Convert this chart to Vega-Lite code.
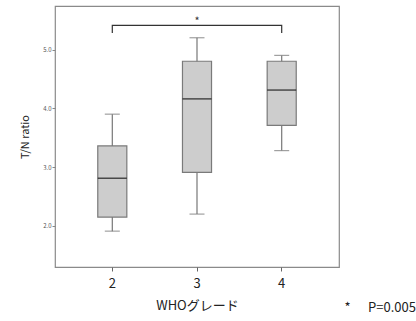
{
  "$schema": "https://vega.github.io/schema/vega-lite/v6.json",
  "width": 284,
  "height": 261,
  "autosize": "none",
  "padding": {"left": 55, "top": 6, "right": 77, "bottom": 54},
  "background": "white",
  "config": {
    "font": "Noto Sans CJK JP",
    "view": {"stroke": "#8a8a8a", "strokeWidth": 1.2},
    "axis": {"grid": false, "domain": false}
  },
  "title": {
    "text": "*\u00a0\u00a0\u00a0\u00a0\u00a0\u00a0P=0.005",
    "orient": "bottom",
    "anchor": "end",
    "frame": "bounds",
    "offset": -10,
    "fontSize": 13,
    "fontWeight": "normal",
    "font": "Noto Sans CJK JP",
    "color": "#222",
    "dx": 77
  },
  "datasets": {
    "boxes": [
      {"grade": "2", "min": 1.91, "q1": 2.15, "median": 2.81, "q3": 3.36, "max": 3.9},
      {"grade": "3", "min": 2.2, "q1": 2.91, "median": 4.16, "q3": 4.8, "max": 5.2},
      {"grade": "4", "min": 3.28, "q1": 3.71, "median": 4.31, "q3": 4.8, "max": 4.9}
    ],
    "bracket": [
      {"grade": "2", "y": 5.28, "o": 1},
      {"grade": "2", "y": 5.41, "o": 2},
      {"grade": "4", "y": 5.41, "o": 3},
      {"grade": "4", "y": 5.28, "o": 4}
    ],
    "star": [{"grade": "3", "y": 5.47, "label": "*"}]
  },
  "encoding": {
    "x": {
      "field": "grade",
      "type": "ordinal",
      "scale": {"domain": ["2", "3", "4"], "paddingInner": 0.657, "paddingOuter": 0.505},
      "axis": {
        "title": "WHOグレード",
        "titleFontSize": 13,
        "titleFontWeight": "normal",
        "titleColor": "#222",
        "titlePadding": 9,
        "labelAngle": 0,
        "labelFontSize": 13,
        "labelColor": "#222",
        "labelPadding": 6,
        "tickColor": "#666",
        "tickSize": 4
      }
    }
  },
  "layer": [
    {
      "data": {"name": "boxes"},
      "mark": {"type": "rule", "color": "#777", "strokeWidth": 1.2},
      "encoding": {
        "y": {
          "field": "min",
          "type": "quantitative",
          "scale": {"domain": [1.3, 5.74], "nice": false, "zero": false},
          "axis": {
            "title": "T/N ratio",
            "titleFontSize": 11,
            "titleFontWeight": "normal",
            "titleColor": "#222",
            "titlePadding": 12,
            "values": [2, 3, 4, 5],
            "format": ".1f",
            "labelFontSize": 6,
            "labelColor": "#555",
            "tickColor": "#888",
            "tickSize": 3,
            "labelPadding": 1
          }
        },
        "y2": {"field": "max"}
      }
    },
    {
      "data": {"name": "boxes"},
      "mark": {"type": "tick", "color": "#777", "size": 15, "thickness": 1.2, "orient": "horizontal"},
      "encoding": {"y": {"field": "min", "type": "quantitative"}}
    },
    {
      "data": {"name": "boxes"},
      "mark": {"type": "tick", "color": "#777", "size": 15, "thickness": 1.2, "orient": "horizontal"},
      "encoding": {"y": {"field": "max", "type": "quantitative"}}
    },
    {
      "data": {"name": "boxes"},
      "mark": {"type": "bar", "fill": "#cdcdcd", "stroke": "#7a7a7a", "strokeWidth": 1.2},
      "encoding": {
        "y": {"field": "q1", "type": "quantitative"},
        "y2": {"field": "q3"}
      }
    },
    {
      "data": {"name": "boxes"},
      "mark": {"type": "tick", "color": "#111", "size": 29, "thickness": 1.5, "orient": "horizontal"},
      "encoding": {"y": {"field": "median", "type": "quantitative"}}
    },
    {
      "data": {"name": "bracket"},
      "mark": {"type": "line", "color": "#333", "strokeWidth": 1.2},
      "encoding": {
        "y": {"field": "y", "type": "quantitative"},
        "order": {"field": "o"}
      }
    },
    {
      "data": {"name": "star"},
      "mark": {"type": "text", "fontSize": 11, "color": "#333"},
      "encoding": {
        "y": {"field": "y", "type": "quantitative"},
        "text": {"field": "label"}
      }
    }
  ]
}
